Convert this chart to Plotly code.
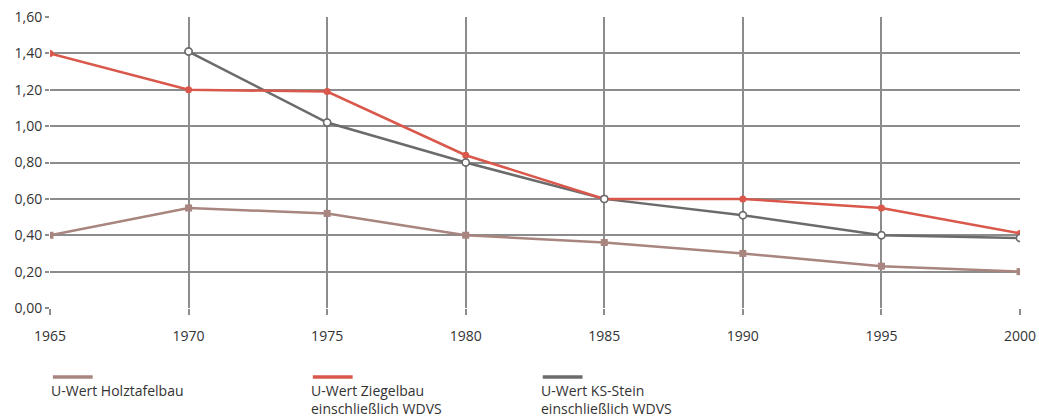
import plotly.graph_objects as go

years = [1965, 1970, 1975, 1980, 1985, 1990, 1995, 2000]
holz = [0.40, 0.55, 0.52, 0.40, 0.36, 0.30, 0.23, 0.20]
ziegel = [1.40, 1.20, 1.19, 0.84, 0.60, 0.60, 0.55, 0.41]
ks_years = [1970, 1975, 1980, 1985, 1990, 1995, 2000]
ks = [1.41, 1.02, 0.80, 0.60, 0.51, 0.40, 0.385]

y_ticks = [0.0, 0.2, 0.4, 0.6, 0.8, 1.0, 1.2, 1.4, 1.6]

C_HOLZ = "#a8857f"
C_ZIEGEL = "#d9574b"
C_KS = "#6b6b6b"
GRID = "#8c8c8c"
FONT = "Open Sans"

fig = go.Figure()

fig.add_trace(go.Scatter(
    x=years, y=holz, mode="lines+markers", name="U-Wert Holztafelbau",
    line=dict(color=C_HOLZ, width=2.5),
    marker=dict(symbol="square", size=7, color=C_HOLZ),
))
fig.add_trace(go.Scatter(
    x=ks_years, y=ks, mode="lines+markers", name="U-Wert KS-Stein einschließlich WDVS",
    line=dict(color=C_KS, width=2.5),
    marker=dict(symbol="circle", size=7, color="white", line=dict(color=C_KS, width=1.5)),
))
fig.add_trace(go.Scatter(
    x=years, y=ziegel, mode="lines+markers", name="U-Wert Ziegelbau einschließlich WDVS",
    line=dict(color=C_ZIEGEL, width=2.5),
    marker=dict(symbol="circle", size=7, color=C_ZIEGEL),
))
# KS markers on top where lines meet
fig.add_trace(go.Scatter(
    x=ks_years, y=ks, mode="markers", showlegend=False, hoverinfo="skip",
    marker=dict(symbol="circle", size=7, color="white", line=dict(color=C_KS, width=1.5)),
))

# legend below the plot: line sample above the text
legend_items = [
    (0.003, C_HOLZ, "U-Wert Holztafelbau"),
    (0.271, C_ZIEGEL, "U-Wert Ziegelbau<br>einschließlich WDVS"),
    (0.508, C_KS, "U-Wert KS-Stein<br>einschließlich WDVS"),
]
for x0, col, label in legend_items:
    fig.add_shape(type="line", xref="paper", yref="paper",
                  x0=x0, x1=x0 + 0.041, y0=-0.237, y1=-0.237,
                  line=dict(color=col, width=3.5))
    fig.add_annotation(xref="paper", yref="paper", x=x0 - 0.003, y=-0.249,
                       xanchor="left", yanchor="top", align="left",
                       text=label, showarrow=False, borderpad=0,
                       font=dict(family=FONT, size=14, color="#333333"))

fig.update_layout(
    width=1039, height=418,
    margin=dict(l=50, r=19, t=17, b=110),
    paper_bgcolor="white", plot_bgcolor="white",
    showlegend=False,
    separators=",.",
    font=dict(family=FONT, size=14, color="#333333"),
    xaxis=dict(
        range=[1965, 2000], tickvals=years, ticktext=[str(y) for y in years],
        showgrid=True, gridcolor=GRID, gridwidth=1.5,
        zeroline=False, showline=False, automargin=False,
        ticklabeloverflow="allow", ticklabelstandoff=9,
        ticks="outside", ticklen=6, tickcolor=GRID, tickwidth=1.5,
        tickfont=dict(size=14),
    ),
    yaxis=dict(
        range=[0, 1.6], tickvals=y_ticks, tickformat=".2f",
        showgrid=True, gridcolor=GRID, gridwidth=1.5,
        zeroline=False, showline=False, automargin=False,
        ticklabeloverflow="allow",
        ticks="outside", ticklen=4, tickcolor=GRID, tickwidth=1.5,
        tickfont=dict(size=14),
    ),
)

# drop the default 8px body margin so the figure fills the window exactly
fig.write_html(
    "out.html",
    config={"displayModeBar": False},
    post_script="document.body.style.margin='0';document.body.style.overflow='hidden';",
)
